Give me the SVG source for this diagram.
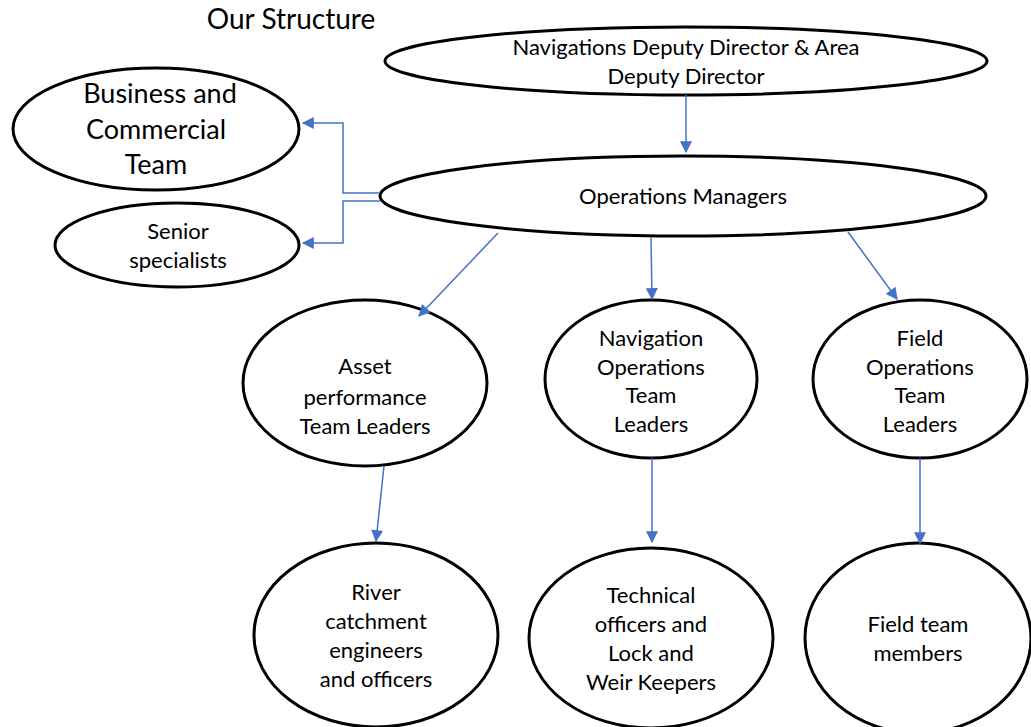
<svg xmlns="http://www.w3.org/2000/svg" width="1031" height="727" viewBox="0 0 1031 727">
  <style>
    .node { fill: #ffffff; stroke: #000000; stroke-width: 3; }
    .lbl { font-family: "Lato", "Liberation Sans", sans-serif; font-size: 22px; fill: #000000; text-anchor: middle; }
    .big { font-size: 27px; }
    .title { font-size: 28px; }
    .conn { fill: none; stroke: #4472C4; stroke-width: 1.5; }
  </style>
  <defs>
    <marker id="arrow" viewBox="0 0 10 10" refX="9" refY="5" markerWidth="13" markerHeight="12" markerUnits="userSpaceOnUse" orient="auto">
      <path d="M0,0 L10,5 L0,10 z" fill="#4472C4"/>
    </marker>
  </defs>
  <rect width="1031" height="727" fill="#ffffff"/>

  <text class="lbl title" x="291" y="29">Our Structure</text>

  <g id="deputy-director">
    <ellipse class="node" cx="686" cy="61" rx="301" ry="34"/>
    <text class="lbl" x="686" y="55">Navigations Deputy Director &amp; Area</text>
    <text class="lbl" x="686" y="84">Deputy Director</text>
  </g>

  <g id="operations-managers">
    <ellipse class="node" cx="683" cy="196" rx="303" ry="40"/>
    <text class="lbl" x="683" y="204">Operations Managers</text>
  </g>

  <g id="business-commercial">
    <ellipse class="node" cx="156" cy="129" rx="143" ry="61"/>
    <text class="lbl big" x="160" y="103">Business and</text>
    <text class="lbl big" x="156" y="139">Commercial</text>
    <text class="lbl big" x="156" y="174">Team</text>
  </g>

  <g id="senior-specialists">
    <ellipse class="node" cx="177" cy="245" rx="122" ry="42"/>
    <text class="lbl" x="178" y="239">Senior</text>
    <text class="lbl" x="178" y="268">specialists</text>
  </g>

  <g id="asset-performance">
    <ellipse class="node" cx="365" cy="383" rx="122" ry="83"/>
    <text class="lbl" x="365" y="374">Asset</text>
    <text class="lbl" x="365" y="405">performance</text>
    <text class="lbl" x="365" y="434">Team Leaders</text>
  </g>

  <g id="navigation-operations">
    <ellipse class="node" cx="651" cy="379" rx="106" ry="79"/>
    <text class="lbl" x="651" y="346">Navigation</text>
    <text class="lbl" x="651" y="375">Operations</text>
    <text class="lbl" x="651" y="403">Team</text>
    <text class="lbl" x="651" y="432">Leaders</text>
  </g>

  <g id="field-operations">
    <ellipse class="node" cx="920" cy="379" rx="107" ry="79"/>
    <text class="lbl" x="920" y="346">Field</text>
    <text class="lbl" x="920" y="375">Operations</text>
    <text class="lbl" x="920" y="403">Team</text>
    <text class="lbl" x="920" y="432">Leaders</text>
  </g>

  <g id="river-catchment">
    <ellipse class="node" cx="376" cy="635" rx="122" ry="92"/>
    <text class="lbl" x="376" y="600">River</text>
    <text class="lbl" x="376" y="629">catchment</text>
    <text class="lbl" x="376" y="658">engineers</text>
    <text class="lbl" x="376" y="687">and officers</text>
  </g>

  <g id="technical-officers">
    <ellipse class="node" cx="651" cy="638" rx="122" ry="90"/>
    <text class="lbl" x="651" y="603">Technical</text>
    <text class="lbl" x="651" y="632">officers and</text>
    <text class="lbl" x="651" y="661">Lock and</text>
    <text class="lbl" x="651" y="690">Weir Keepers</text>
  </g>

  <g id="field-team">
    <ellipse class="node" cx="918" cy="638" rx="113" ry="95"/>
    <text class="lbl" x="918" y="632">Field team</text>
    <text class="lbl" x="918" y="661">members</text>
  </g>

  <!-- connectors drawn last so arrowheads sit on top of node outlines -->
  <g id="connectors">
    <line class="conn" x1="686" y1="95" x2="686" y2="152" marker-end="url(#arrow)"/>
    <polyline class="conn" points="380,193 343,193 343,123 303,123" marker-end="url(#arrow)"/>
    <polyline class="conn" points="380,201 343,201 343,243 303,243" marker-end="url(#arrow)"/>
    <line class="conn" x1="498" y1="233" x2="419" y2="316" marker-end="url(#arrow)"/>
    <line class="conn" x1="651" y1="237" x2="652" y2="299" marker-end="url(#arrow)"/>
    <line class="conn" x1="848" y1="232" x2="897" y2="299" marker-end="url(#arrow)"/>
    <line class="conn" x1="384" y1="466" x2="376" y2="541" marker-end="url(#arrow)"/>
    <line class="conn" x1="652" y1="458" x2="652" y2="542" marker-end="url(#arrow)"/>
    <line class="conn" x1="920" y1="458" x2="920" y2="543" marker-end="url(#arrow)"/>
  </g>
</svg>
